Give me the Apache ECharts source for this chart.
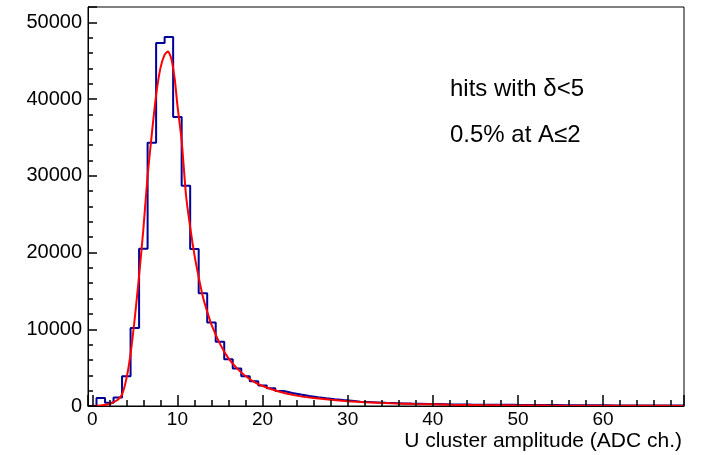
<!DOCTYPE html>
<html>
<head>
<meta charset="utf-8">
<script src="https://cdn.jsdelivr.net/npm/echarts@6/dist/echarts.min.js"></script>
<style>
	html, body { margin: 0; padding: 0; background: #fff; }
	#chart { width: 701px; height: 455px; }
</style>
</head>
<body>
<div id="chart"></div>
<script>
// bin centres (ADC ch.), bin width 1
var binCenters = [];
for (var i = 0; i < 70; i++) binCenters.push(i);

var binCounts = [
	0, 1050, 420, 1100, 3870, 10180, 20480, 34300, 47300, 48080,
	37650, 28720, 20460, 14700, 10870, 8360, 6100, 4880, 3880, 3220,
	2660, 2310, 1960, 1700, 1490, 1310, 1140, 1000, 875, 780,
	700, 570, 520, 470, 420, 380, 340, 310, 290, 270,
	250, 230, 200, 190, 180, 175, 170, 160, 150, 150,
	140, 130, 130, 120, 120, 110, 110, 100, 100, 90,
	90, 80, 80, 70, 70, 60, 60, 50, 50, 50
];

// fit curve
var fitX = [0, 1, 2, 2.5, 3, 3.5, 4, 4.5, 5, 5.5, 6, 6.5, 7, 7.5, 8, 8.5, 8.9, 9.3, 9.7, 10, 10.5, 11, 11.5, 12, 12.5, 13, 13.5, 14, 15, 16, 17, 18, 19, 20, 22, 24, 26, 28, 30, 32, 35, 38, 42, 46, 50, 55, 60, 65, 69.5];
var fitY = [20, 80, 250, 500, 800, 1500, 3500, 6800, 11500, 17000, 23000, 30000, 35500, 40500, 44000, 45800, 46200, 45200, 42500, 39200, 34600, 27600, 23300, 19700, 16800, 14200, 12300, 10600, 8100, 6200, 4900, 3900, 3150, 2600, 1850, 1350, 1030, 800, 630, 500, 360, 260, 170, 110, 75, 45, 30, 20, 15];

var notes = ["hits with δ<5", "0.5% at A≤2"];
var xTitle = "U cluster amplitude (ADC ch.)";

function histSteps(centers, counts) {
	var d = [];
	for (var i = 0; i < centers.length; i++) d.push([centers[i] - 0.5, counts[i]]);
	d.push([centers[centers.length - 1] + 0.5, counts[counts.length - 1]]);
	return d;
}

function pairs(xs, ys) {
	var d = [];
	for (var i = 0; i < xs.length; i++) d.push([xs[i], ys[i]]);
	return d;
}

var font = "Liberation Sans";
var chart = echarts.init(document.getElementById("chart"));
var option = {
	animation: false,
	grid: {
		left: 88, right: 17, top: 7, bottom: 49,
		show: true, borderColor: "#000", borderWidth: 1
	},
	xAxis: {
		type: "value",
		min: -0.5, max: 69.5,
		splitNumber: 7,
		z: 5,
		axisLine: { lineStyle: { color: "#000", width: 1 } },
		axisTick: { show: true, inside: true, length: 11, lineStyle: { color: "#000", width: 1.5 } },
		minorTick: { show: true, splitNumber: 5, length: 6, lineStyle: { color: "#000", width: 1.5 } },
		axisLabel: { color: "#000", fontSize: 19, fontFamily: font, margin: 4, showMinLabel: false, showMaxLabel: false },
		splitLine: { show: false }
	},
	yAxis: {
		type: "value",
		min: 0, max: 52000, interval: 10000,
		z: 5,
		axisLine: { show: true, onZero: false, lineStyle: { color: "#000", width: 1 } },
		axisTick: { show: true, inside: true, length: 9, lineStyle: { color: "#000", width: 1.5 } },
		minorTick: { show: true, splitNumber: 5, length: 5, lineStyle: { color: "#000", width: 1.5 } },
		axisLabel: {
			color: "#000", fontSize: 20, fontFamily: font, margin: 6, showMaxLabel: false,
			formatter: function (v) { return String(v); }
		},
		splitLine: { show: false }
	},
	graphic: [
		{ type: "text", left: 450, top: 77, style: { text: notes[0], font: "24px " + font, fill: "#000" } },
		{ type: "text", left: 450, top: 123, style: { text: notes[1], font: "24px " + font, fill: "#000" } },
		{ type: "text", right: 19, top: 431, style: { text: xTitle, font: "21px " + font, fill: "#000" } }
	],
	series: [{
		name: "hist",
		type: "line",
		step: "end",
		data: histSteps(binCenters, binCounts),
		showSymbol: false,
		lineStyle: { color: "#000099", width: 2 }
	}, {
		name: "fit",
		type: "line",
		data: pairs(fitX, fitY),
		smooth: 0.2,
		showSymbol: false,
		lineStyle: { color: "#ff0000", width: 2 }
	}]
};
chart.setOption(option);
</script>
</body>
</html>
